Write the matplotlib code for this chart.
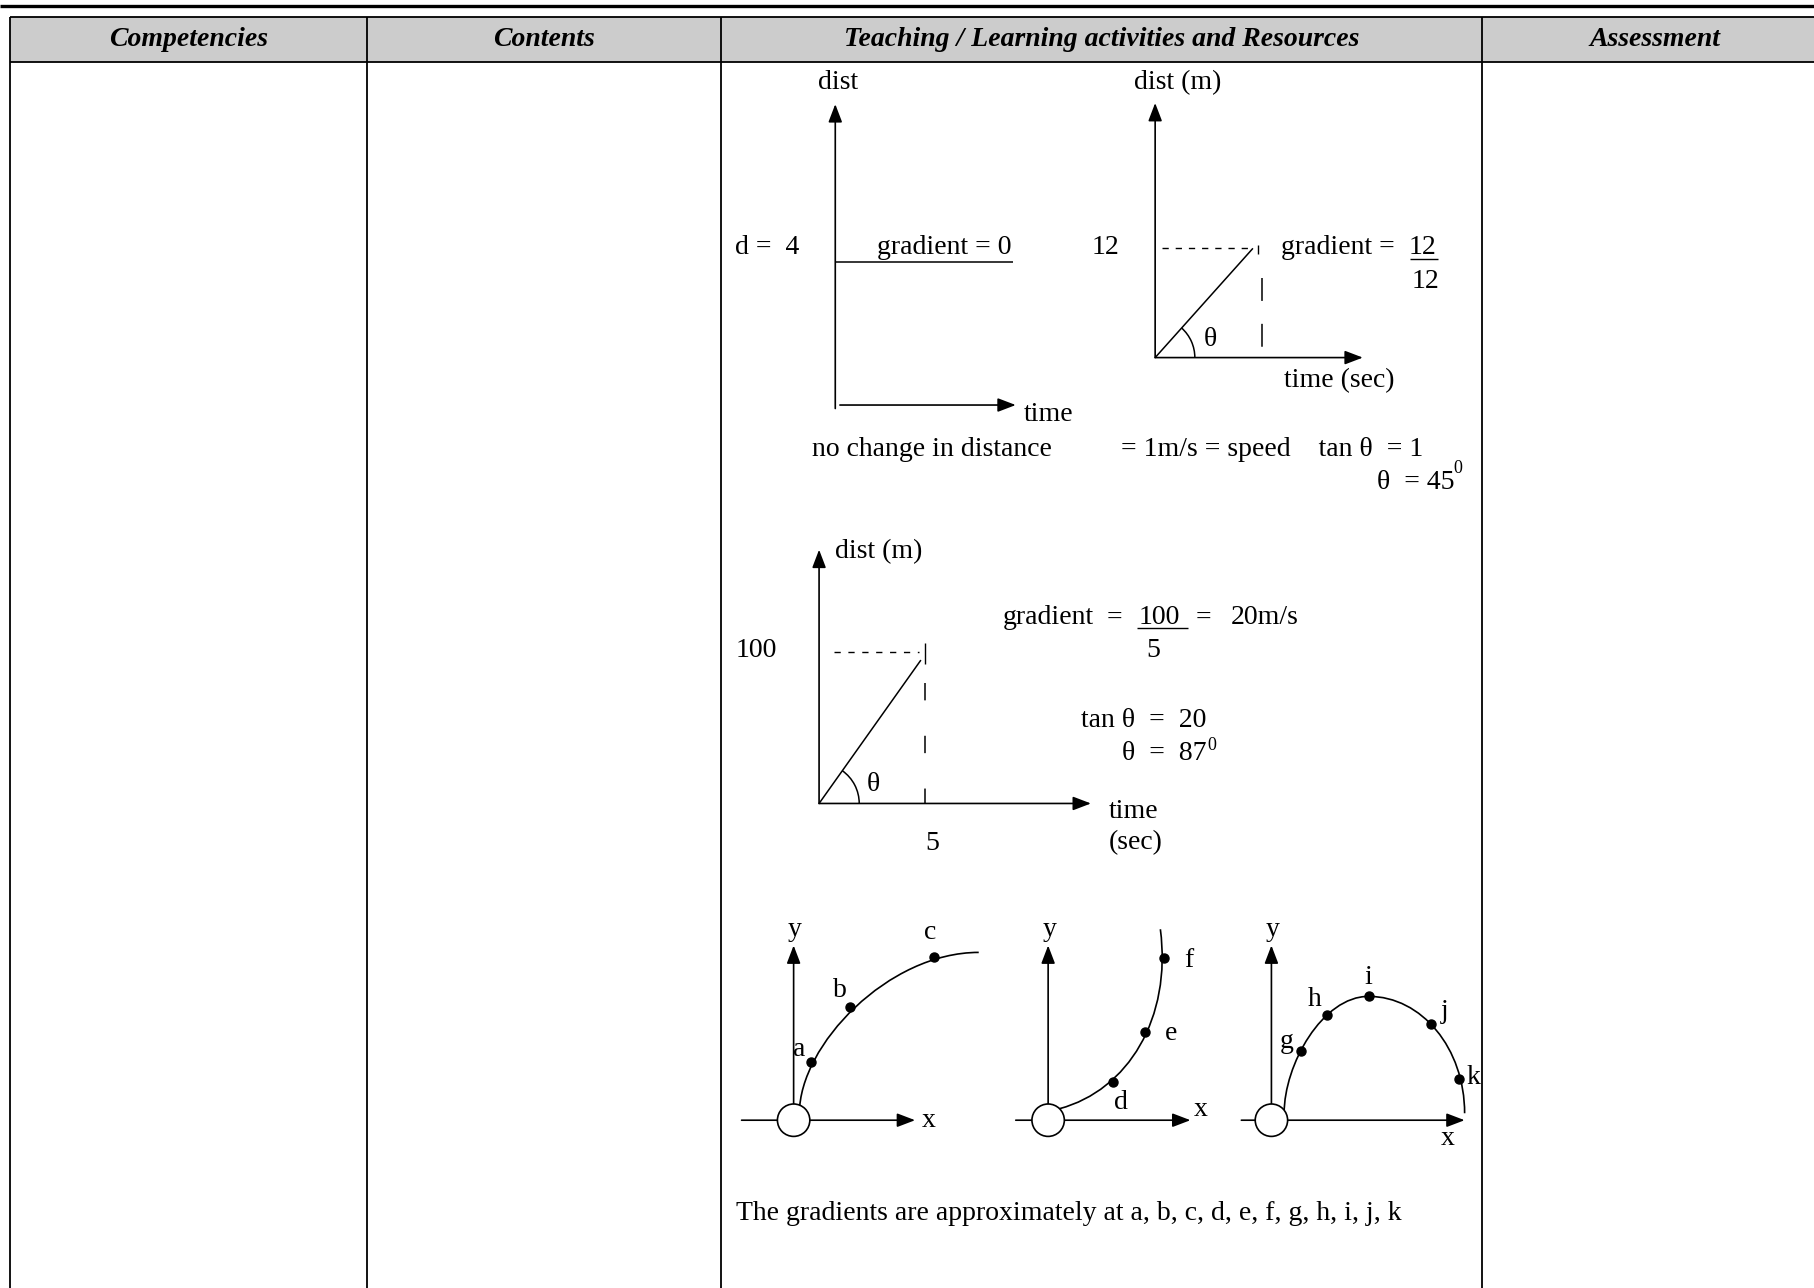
import numpy as np
import matplotlib
matplotlib.use("Agg")
import matplotlib.pyplot as plt
from matplotlib.patches import Arc, Circle, Rectangle, PathPatch
from matplotlib.path import Path

plt.rcParams["font.family"] = ["Liberation Serif", "DejaVu Serif"]
plt.rcParams["lines.scale_dashes"] = False

# page coordinate space (px of the reduced page)
W, H = 1568, 1113
FS = 20

HEADERS = ["Competencies", "Contents",
           "Teaching / Learning activities and Resources", "Assessment"]
COL_EDGES = [9, 317, 623, 1281, 1580]

# sketch 1: distance constant at d = 4
D1_TEXT = ["dist", "d =  4", "gradient = 0", "time", "no change in distance"]

# sketch 2: slope 12/12
D2_TEXT = ["dist (m)", "12", "gradient = ", "12", "12", "time (sec)",
           "= 1m/s = speed    tan \u03b8  = 1", "\u03b8  = 45"]

# sketch 3: slope 100/5
D3_TEXT = ["dist (m)", "100", "5", "time", "(sec)", "gradient", "=", "100",
           "=", "20m/s", "5", "tan \u03b8  =  20", "\u03b8  =  87"]

# sketch 4: three curves with marked points
DOTS_A = [(701, 918), (735, 870), (807, 827)]
LABELS_A = ["a", "b", "c"]
LABEL_POS_A = [(691, 907), (726, 856), (804, 806)]
CURVE_A = [(691, 962), (691, 903), (768, 823), (846, 823)]

DOTS_B = [(962, 935), (990, 892), (1006, 828)]
LABELS_B = ["d", "e", "f"]
LABEL_POS_B = [(969, 953), (1012, 893), (1028, 830)]
CURVE_B = [(916, 958), (975, 942), (1013, 880), (1003, 803)]

DOTS_C = [(1125, 908), (1147, 877), (1183, 861), (1237, 885), (1261, 932)]
LABELS_C = ["g", "h", "i", "j", "k"]
LABEL_POS_C = [(1112, 900), (1136, 864), (1183, 845), (1249, 874), (1274, 931)]
CURVE_C = [(1110, 962), (1110, 920), (1143, 861), (1183, 861),
           (1229, 861), (1266, 906), (1266, 962)]

FOOTNOTE = "The gradients are approximately at a, b, c, d, e, f, g, h, i, j, k"


def arrow(ax, x0, y0, x1, y1):
    ax.annotate("", xy=(x1, y1), xytext=(x0, y0),
                arrowprops=dict(arrowstyle="-|>,head_length=1.1,head_width=0.42",
                                mutation_scale=10, lw=1.2, color="k",
                                shrinkA=0, shrinkB=0))


def line(ax, xs, ys, **kw):
    kw.setdefault("lw", 1.1)
    kw.setdefault("color", "k")
    ax.plot(xs, ys, solid_capstyle="butt", **kw)


def txt(ax, x, y, s, ha="left", size=FS, **kw):
    ax.text(x, y, s, ha=ha, va="center", fontsize=size, **kw)


def angle_arc(ax, origin, end, r):
    ang = np.degrees(np.arctan2(end[1] - origin[1], end[0] - origin[0]))
    ax.add_patch(Arc(origin, 2 * r, 2 * r, theta1=ang, theta2=0, lw=1.1, color="k"))


fig = plt.figure(figsize=(18.14, 12.88), dpi=100)
ax = fig.add_axes([0, 0, 1, 1])
ax.set_xlim(0, W)
ax.set_ylim(H, 0)
ax.axis("off")

# ---- table frame
line(ax, [0, W], [4.8, 4.8], lw=2.4)
ax.add_patch(Rectangle((COL_EDGES[0], 15), W, 38.5, fc="#cccccc", ec="none"))
line(ax, [COL_EDGES[0], W], [15, 15], lw=1.3)
line(ax, [COL_EDGES[0], W], [53.5, 53.5], lw=1.3)
for x in COL_EDGES[:-1]:
    line(ax, [x, x], [15, H], lw=1.3)
for i, h in enumerate(HEADERS):
    cx = (COL_EDGES[i] + COL_EDGES[i + 1]) / 2
    txt(ax, cx, 34.5, h, ha="center", fontweight="bold", fontstyle="italic")

# ---- sketch 1
txt(ax, 724, 71, D1_TEXT[0], ha="center")
arrow(ax, 722, 353, 722, 90)
line(ax, [722, 876], [226, 226])
txt(ax, 635, 214, D1_TEXT[1])
txt(ax, 758, 214, D1_TEXT[2])
arrow(ax, 726, 350, 878, 350)
txt(ax, 885, 358, D1_TEXT[3])
txt(ax, 702, 388, D1_TEXT[4])

# ---- sketch 2
o2 = (998.5, 309)
top2 = (1083, 214.6)
txt(ax, 1018, 71, D2_TEXT[0], ha="center")
arrow(ax, o2[0], o2[1], o2[0], 89)
arrow(ax, o2[0], o2[1], 1178, o2[1])
txt(ax, 955.5, 214, D2_TEXT[1], ha="center")
line(ax, [1004, 1080], [214.6, 214.6], ls=(0, (4.5, 5)), lw=1.0)
line(ax, [1087, 1087], [212, 219.5], lw=1.0)
line(ax, [1090.8, 1090.8], [240, 305], ls=(0, (16.5, 16.5)), lw=1.1)
line(ax, [o2[0], top2[0]], [o2[1], top2[1]])
angle_arc(ax, o2, top2, 34.3)
txt(ax, 1046, 293, "\u03b8", ha="center")
txt(ax, 1107, 214, D2_TEXT[2])
txt(ax, 1230, 214, D2_TEXT[3], ha="center")
line(ax, [1219, 1243], [224, 224], lw=1.0)
txt(ax, 1232, 243, D2_TEXT[4], ha="center")
txt(ax, 1110, 329, D2_TEXT[5])
txt(ax, 969, 388, D2_TEXT[6])
txt(ax, 1190, 417, D2_TEXT[7])
txt(ax, 1260, 405, "0", ha="center", size=13)

# ---- sketch 3
o3 = (708, 694.3)
top3 = (796, 570.4)
arrow(ax, o3[0], o3[1], o3[0], 475)
arrow(ax, o3[0], o3[1], 943, o3[1])
txt(ax, 722, 477, D3_TEXT[0])
txt(ax, 636, 562.5, D3_TEXT[1])
line(ax, [721, 794], [563, 563], ls=(0, (4.5, 5.5)), lw=1.0)
line(ax, [799.5, 799.5], [555.5, 573.5], lw=1.0)
line(ax, [799.8, 799.8], [590.5, 694], ls=(0, (12.5, 25.5)), lw=1.1)
line(ax, [o3[0], top3[0]], [o3[1], top3[1]])
angle_arc(ax, o3, top3, 34.7)
txt(ax, 755, 678, "\u03b8", ha="center")
txt(ax, 805.5, 728.5, D3_TEXT[2], ha="center")
txt(ax, 958, 701, D3_TEXT[3])
txt(ax, 958, 728.5, D3_TEXT[4])
txt(ax, 867, 534, D3_TEXT[5])
txt(ax, 963.5, 534, D3_TEXT[6], ha="center")
txt(ax, 984, 534, D3_TEXT[7])
line(ax, [983, 1027], [543, 543], lw=1.0)
txt(ax, 1040, 534, D3_TEXT[8], ha="center")
txt(ax, 1064, 534, D3_TEXT[9])
txt(ax, 997, 562.5, D3_TEXT[10], ha="center")
txt(ax, 934, 622.5, D3_TEXT[11])
txt(ax, 970, 651, D3_TEXT[12])
txt(ax, 1047.5, 644, "0", ha="center", size=13)

# ---- sketch 4: curves
axes4 = [((686, 968), 641, 791, (803, 968)),
         ((906, 968), 878, 1029, (1038, 959)),
         ((1099, 968), 1073, 1266, (1251, 984))]
for (c, x0, x1, xl) in axes4:
    arrow(ax, x0, c[1], x1, c[1])
    arrow(ax, c[0], c[1], c[0], 817)
    ax.add_patch(Circle(c, 14, fc="white", ec="k", lw=1.2, zorder=4))
    txt(ax, c[0] + 1, 803, "y", ha="center")
    txt(ax, xl[0], xl[1], "x", ha="center")

for pts in (CURVE_A, CURVE_B):
    ax.add_patch(PathPatch(Path(pts, [Path.MOVETO] + [Path.CURVE4] * 3),
                           fc="none", ec="k", lw=1.2, zorder=3))
ax.add_patch(PathPatch(Path(CURVE_C, [Path.MOVETO] + [Path.CURVE4] * 6),
                       fc="none", ec="k", lw=1.2, zorder=3))

for dots, labels, lpos in ((DOTS_A, LABELS_A, LABEL_POS_A),
                           (DOTS_B, LABELS_B, LABEL_POS_B),
                           (DOTS_C, LABELS_C, LABEL_POS_C)):
    xs, ys = zip(*dots)
    ax.plot(xs, ys, "o", ms=6.5, color="k", zorder=5)
    for lab, (lx, ly) in zip(labels, lpos):
        txt(ax, lx, ly, lab, ha="center")

txt(ax, 636, 1049, FOOTNOTE)

fig.savefig("out.png", dpi=100)
